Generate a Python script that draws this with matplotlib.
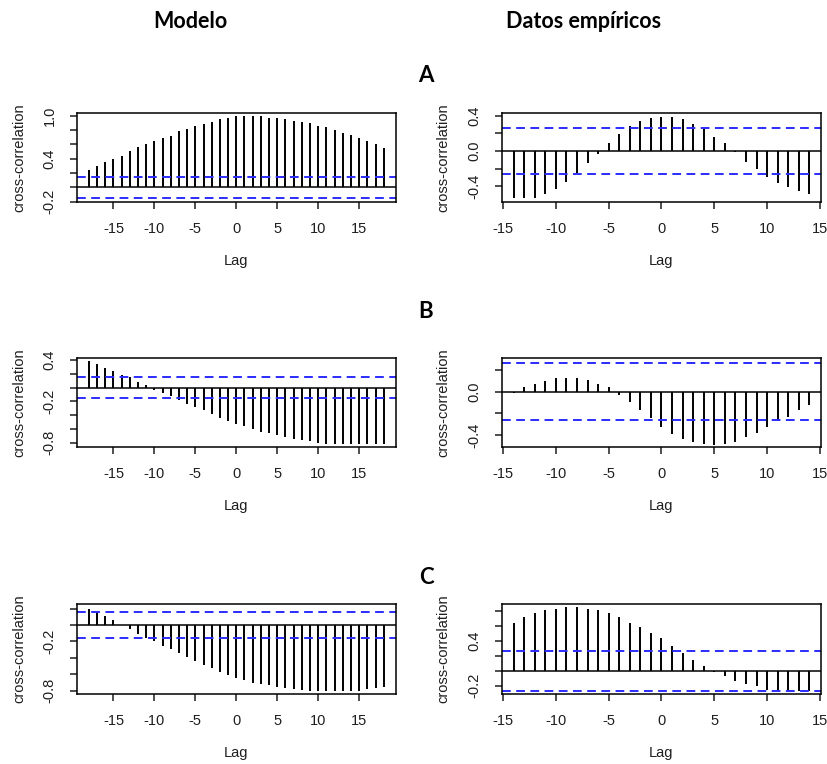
import numpy as np
import matplotlib.pyplot as plt

# ---- data (R ccf plots) ----
lags_model = list(range(-18, 19))
lags_emp = list(range(-14, 15))

# A
ccf_a_model = [0.24, 0.29, 0.35, 0.40, 0.44, 0.50, 0.56, 0.61, 0.65, 0.69, 0.72, 0.78,
               0.81, 0.86, 0.875, 0.91, 0.95, 0.97, 0.99, 0.99, 0.99, 0.99, 0.97, 0.97,
               0.95, 0.93, 0.91, 0.89, 0.86, 0.84, 0.80, 0.76, 0.73, 0.69, 0.65, 0.60, 0.55]
ccf_a_emp = [-0.535, -0.535, -0.535, -0.49, -0.43, -0.35, -0.25, -0.14, -0.04, 0.09,
             0.19, 0.28, 0.34, 0.37, 0.39, 0.39, 0.36, 0.31, 0.25, 0.16, 0.09, -0.015,
             -0.13, -0.20, -0.30, -0.36, -0.415, -0.46, -0.49]
# B
ccf_b_model = [0.38, 0.34, 0.285, 0.24, 0.19, 0.155, 0.085, 0.045, -0.03, -0.08, -0.12,
               -0.18, -0.23, -0.28, -0.33, -0.38, -0.44, -0.48, -0.52, -0.56, -0.60,
               -0.64, -0.66, -0.69, -0.71, -0.74, -0.76, -0.78, -0.80, -0.81, -0.82,
               -0.82, -0.82, -0.82, -0.82, -0.82, -0.82]
ccf_b_emp = [-0.015, 0.04, 0.075, 0.10, 0.125, 0.125, 0.125, 0.11, 0.075, 0.04, -0.03,
             -0.095, -0.17, -0.24, -0.325, -0.39, -0.435, -0.46, -0.48, -0.49, -0.48,
             -0.46, -0.42, -0.385, -0.325, -0.27, -0.23, -0.17, -0.125]
# C
ccf_c_model = [0.20, 0.155, 0.105, 0.057, 0.005, -0.05, -0.105, -0.16, -0.20, -0.25,
               -0.29, -0.34, -0.39, -0.44, -0.49, -0.52, -0.57, -0.61, -0.64, -0.67,
               -0.70, -0.72, -0.735, -0.75, -0.77, -0.78, -0.79, -0.80, -0.80, -0.80,
               -0.80, -0.80, -0.80, -0.80, -0.78, -0.77, -0.75]
ccf_c_emp = [0.65, 0.72, 0.78, 0.82, 0.835, 0.86, 0.86, 0.835, 0.82, 0.78, 0.72, 0.65,
             0.59, 0.51, 0.445, 0.33, 0.24, 0.147, 0.073, -0.02, -0.07, -0.13, -0.18,
             -0.20, -0.25, -0.25, -0.25, -0.27, -0.27]

ci_model = [0.15, 0.155, 0.155]
ci_emp = [0.265, 0.265, 0.265]

# y axis ticks / labels as drawn by R (some labels dropped)
yt_a_model = [-0.2, 0.0, 0.2, 0.4, 0.6, 0.8, 1.0]
yl_a_model = ["-0.2", "", "", "0.4", "", "", "1.0"]
yt_a_emp = [-0.4, -0.2, 0.0, 0.2, 0.4]
yl_a_emp = ["-0.4", "", "0.0", "", "0.4"]
yt_b_model = [-0.8, -0.6, -0.4, -0.2, 0.0, 0.2, 0.4]
yl_b_model = ["-0.8", "", "", "-0.2", "", "", "0.4"]
yt_b_emp = [-0.4, -0.2, 0.0, 0.2]
yl_b_emp = ["-0.4", "", "0.0", ""]
yt_c_model = [-0.8, -0.6, -0.4, -0.2, 0.0, 0.2]
yl_c_model = ["-0.8", "", "", "-0.2", "", ""]
yt_c_emp = [-0.2, 0.0, 0.2, 0.4, 0.6, 0.8]
yl_c_emp = ["-0.2", "", "", "0.4", "", ""]

plt.rcParams["font.family"] = ["Liberation Sans", "DejaVu Sans"]
plt.rcParams["axes.unicode_minus"] = False

W, H = 828, 764
fig = plt.figure(figsize=(W / 100, H / 100), dpi=100)
txt_col = "#1e1e1e"


def px_axes(x0, y0, x1, y1):
    return fig.add_axes([x0 / W, 1 - y1 / H, (x1 - x0) / W, (y1 - y0) / H])


def ccf_panel(ax, lags, vals, ci, ylim, xlim, yt, yl):
    ax.vlines(lags, 0, vals, color="black", lw=1.4)
    ax.axhline(0, color="black", lw=1.1)
    for c in (ci, -ci):
        ax.axhline(c, color="#2b2bff", lw=1.4, ls=(0, (4.5, 2.8)))
    ax.set_xlim(*xlim)
    ax.set_ylim(*ylim)
    ax.set_xticks([-15, -10, -5, 0, 5, 10, 15])
    ax.set_yticks(yt)
    ax.set_yticklabels(yl, rotation=90, va="center")
    ax.tick_params(length=5, width=1.1, labelsize=10.5, pad=9.5, colors=txt_col)
    for s in ax.spines.values():
        s.set_linewidth(1.1)
    ax.set_xlabel("Lag", fontsize=10.5, labelpad=13, color=txt_col)
    return ax


rows = [
    (113, 202, ccf_a_model, ccf_a_emp, (-0.205, 1.035), (-0.58, 0.43),
     yt_a_model, yl_a_model, yt_a_emp, yl_a_emp),
    (358, 447, ccf_b_model, ccf_b_emp, (-0.86, 0.43), (-0.51, 0.31),
     yt_b_model, yl_b_model, yt_b_emp, yl_b_emp),
    (604, 694, ccf_c_model, ccf_c_emp, (-0.84, 0.257), (-0.31, 0.90),
     yt_c_model, yl_c_model, yt_c_emp, yl_c_emp),
]

for i, (y0, y1, vm, ve, ylm, yle, ytm, ylm_lab, yte, yle_lab) in enumerate(rows):
    axm = px_axes(77, y0, 396, y1)
    ccf_panel(axm, lags_model, vm, ci_model[i], ylm, (-19.45, 19.5), ytm, ylm_lab)
    axe = px_axes(502, y0, 821, y1)
    ccf_panel(axe, lags_emp, ve, ci_emp[i], yle, (-15.1, 15.1), yte, yle_lab)
    yc = 1 - (y0 + y1) / 2 / H
    for lx in (19, 443):
        fig.text(lx / W, yc, "cross-correlation", rotation=90, ha="center",
                 va="center", fontsize=10.5, color=txt_col)

# column titles and row letters
fig.text(190 / W, 1 - 22 / H, "Modelo", ha="center", va="center",
         fontsize=15.5, fontweight="bold", family="Lato")
fig.text(584 / W, 1 - 22 / H, "Datos empíricos", ha="center", va="center",
         fontsize=15.5, fontweight="bold", family="Lato")
for letter, yy in zip(["A", "B", "C"], [75, 312, 578]):
    fig.text(426 / W, 1 - yy / H, letter, ha="center", va="center",
             fontsize=16, fontweight="bold", family="Lato")

fig.savefig("out.png", dpi=100)
